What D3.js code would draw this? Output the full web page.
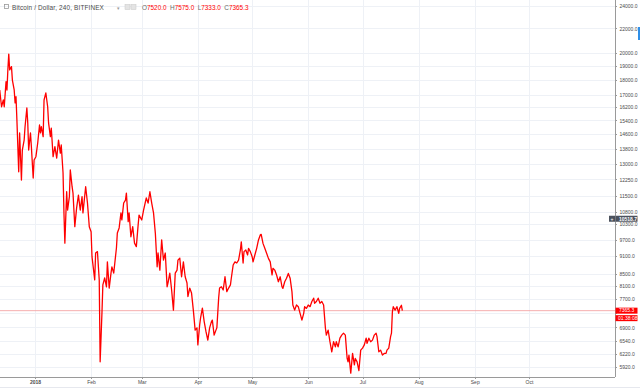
<!DOCTYPE html>
<html lang="en">
<head>
<meta charset="UTF-8">
<title>Bitcoin / Dollar, 240, BITFINEX</title>
<script src="https://d3js.org/d3.v7.min.js"></script>
<style>
  body { margin: 0; background: #fff; }
  svg { display: block; font-family: "Liberation Sans", Arial, sans-serif; }
  .grid line { stroke: #eef1f6; shape-rendering: crispEdges; }
  .axis text { fill: #4a4a4a; font-size: 5px; }
  .axis line { stroke: #9a9a9a; shape-rendering: crispEdges; }
  .axis path { display: none; }
  .line { fill: none; stroke: #ff0000; stroke-width: 1.3px; stroke-linejoin: round; }
</style>
</head>
<body>
<div id="chart"></div>
<script>
// header
const symbolTitle = "Bitcoin / Dollar, 240, BITFINEX";
const ohlcLabels = ["O", "H", "L", "C"];
const ohlcValues = [7520.0, 7575.0, 7333.0, 7365.3];
const lastPrice = 7365.3;
const countdown = "01:38:08";
const crosshairPrice = 10518.7;

// axes
const priceTicks = [24000, 22000, 20000, 19000, 18000, 17000, 16200, 15400, 14600, 13800,
  13000, 12250, 11500, 10800, 10300, 9700, 9100, 8500, 8100, 7700, 7300, 6900, 6540, 6220, 5920];
const monthTicks = ["2018-01-01", "2018-02-01", "2018-03-01", "2018-04-01", "2018-05-01",
  "2018-06-01", "2018-07-01", "2018-08-01", "2018-09-01", "2018-10-01"];
const monthLabels = ["2018", "Feb", "Mar", "Apr", "May", "Jun", "Jul", "Aug", "Sep", "Oct"];

// close prices
const dates = [
  "2017-12-12 12","2017-12-13 12","2017-12-14 12","2017-12-15 00","2017-12-16 00","2017-12-16 12","2017-12-17 00","2017-12-17 12","2017-12-18 00","2017-12-19 00",
  "2017-12-19 12","2017-12-20 12","2017-12-21 00","2017-12-21 12","2017-12-22 00","2017-12-23 00","2017-12-23 12","2017-12-24 00","2017-12-24 12","2017-12-25 00",
  "2017-12-26 00","2017-12-26 12","2017-12-27 12","2017-12-28 00","2017-12-28 12","2017-12-29 12","2017-12-30 00","2017-12-31 00","2017-12-31 12",
  "2018-01-01 12","2018-01-02 12","2018-01-03 12","2018-01-04 00","2018-01-04 12","2018-01-05 12","2018-01-06 00","2018-01-07 00","2018-01-08 00","2018-01-08 12",
  "2018-01-09 12","2018-01-10 00","2018-01-11 00","2018-01-12 00","2018-01-13 00","2018-01-14 00","2018-01-15 00","2018-01-15 12","2018-01-16 12","2018-01-17 00",
  "2018-01-17 12","2018-01-18 12","2018-01-19 00","2018-01-20 00","2018-01-20 12","2018-01-21 12","2018-01-22 00","2018-01-23 00","2018-01-24 00","2018-01-25 00",
  "2018-01-26 00","2018-01-27 00","2018-01-27 12","2018-01-29 00","2018-01-30 00","2018-01-31 00",
  "2018-02-01 00","2018-02-01 12","2018-02-03 00","2018-02-03 12","2018-02-04 12","2018-02-05 12","2018-02-06 00","2018-02-07 00","2018-02-07 12","2018-02-08 12",
  "2018-02-09 12","2018-02-10 00","2018-02-11 00","2018-02-12 00","2018-02-12 12","2018-02-13 12","2018-02-15 00","2018-02-15 12","2018-02-16 12","2018-02-17 12",
  "2018-02-18 00","2018-02-19 00","2018-02-20 00","2018-02-20 12","2018-02-21 12","2018-02-22 00","2018-02-23 00","2018-02-24 00","2018-02-25 00","2018-02-26 00",
  "2018-02-27 00","2018-02-27 12",
  "2018-03-01 00","2018-03-02 00","2018-03-03 12","2018-03-04 12","2018-03-05 12","2018-03-06 12","2018-03-07 12","2018-03-08 12","2018-03-09 12","2018-03-10 00",
  "2018-03-11 00","2018-03-12 00","2018-03-13 00","2018-03-14 00","2018-03-15 00","2018-03-15 12","2018-03-16 12","2018-03-17 12","2018-03-18 12","2018-03-19 12",
  "2018-03-20 12","2018-03-21 00","2018-03-22 00","2018-03-23 00","2018-03-24 00","2018-03-25 00","2018-03-26 00","2018-03-26 12","2018-03-27 12","2018-03-28 12",
  "2018-03-29 12","2018-03-30 12","2018-03-31 12",
  "2018-04-01 00","2018-04-02 00","2018-04-02 12","2018-04-03 12","2018-04-04 12","2018-04-05 12","2018-04-06 12","2018-04-07 12","2018-04-08 12","2018-04-09 00",
  "2018-04-10 00","2018-04-11 00","2018-04-11 12","2018-04-12 12","2018-04-13 00","2018-04-14 00","2018-04-15 00","2018-04-16 00","2018-04-17 00","2018-04-18 00",
  "2018-04-19 00","2018-04-19 12","2018-04-20 12","2018-04-21 12","2018-04-22 12","2018-04-23 12","2018-04-24 12","2018-04-25 00","2018-04-26 00","2018-04-26 12",
  "2018-04-27 12","2018-04-28 12","2018-04-29 00","2018-04-30 00",
  "2018-05-01 00","2018-05-01 12","2018-05-02 12","2018-05-03 12","2018-05-04 12","2018-05-05 12","2018-05-06 00","2018-05-07 00","2018-05-08 00","2018-05-09 00",
  "2018-05-10 00","2018-05-11 00","2018-05-12 00","2018-05-12 12","2018-05-13 12","2018-05-14 12","2018-05-15 12","2018-05-16 12","2018-05-17 12","2018-05-18 00",
  "2018-05-19 00","2018-05-20 00","2018-05-21 00","2018-05-22 00","2018-05-23 00","2018-05-23 12","2018-05-24 12","2018-05-25 12","2018-05-26 12","2018-05-27 12",
  "2018-05-28 12","2018-05-29 12","2018-05-30 00","2018-05-31 00",
  "2018-06-01 00","2018-06-02 00","2018-06-03 00","2018-06-04 00","2018-06-04 12","2018-06-05 12","2018-06-06 12","2018-06-07 12","2018-06-08 12","2018-06-09 12",
  "2018-06-10 12","2018-06-11 00","2018-06-12 00","2018-06-13 00","2018-06-14 00","2018-06-15 00","2018-06-16 00","2018-06-16 12","2018-06-17 12","2018-06-18 12",
  "2018-06-19 12","2018-06-20 12","2018-06-21 12","2018-06-22 12","2018-06-23 00","2018-06-23 12","2018-06-24 12","2018-06-25 12","2018-06-26 12","2018-06-27 00",
  "2018-06-28 00","2018-06-29 00","2018-06-30 00",
  "2018-07-01 00","2018-07-02 00","2018-07-03 00","2018-07-03 12","2018-07-04 12","2018-07-05 12","2018-07-06 12","2018-07-07 12","2018-07-08 12","2018-07-09 00",
  "2018-07-10 00","2018-07-11 00","2018-07-12 00","2018-07-13 00","2018-07-14 00","2018-07-14 12","2018-07-15 12","2018-07-16 12","2018-07-17 00","2018-07-17 12",
  "2018-07-18 00","2018-07-19 00","2018-07-20 00","2018-07-21 00","2018-07-21 12","2018-07-22 12","2018-07-23 00"
];
const closes = [
  17330,16240,16670,16240,17900,17330,18730,19920,18730,18970,
  18010,17330,16480,16880,15430,12620,14670,13380,12220,13730,
  14270,15030,16160,15250,13730,14670,13910,12320,13210,
  13380,14110,15130,14670,15030,14460,16670,17130,16240,15250,
  14460,14950,13380,13910,13310,14270,13570,14000,12560,10760,
  9570,11680,10880,11460,12710,11910,11620,10200,10970,11530,
  10880,11460,10760,11910,11180,10200,
  10000,9080,8300,9210,9260,8300,6040,7300,8140,8360,
  8080,8900,8040,8520,8730,8520,9390,9950,10150,10760,
  10470,11180,11310,11620,10400,10760,9810,10200,9570,9440,
  10270,10670,
  10470,10880,11400,11180,11680,11180,10760,9950,8730,9210,
  8620,9690,8960,9210,8080,8200,8520,7980,7380,8520,
  8620,8960,9030,8400,8900,8400,8200,7780,8040,7890,
  7380,6830,6890,
  6450,6970,7160,7440,7060,6790,6570,6890,7060,7100,
  6700,6830,6890,7740,8040,8080,7980,8400,7930,8040,
  8140,8360,8790,8900,8860,8960,9320,9620,8860,9260,
  9320,9140,9380,9260,
  9080,8900,9140,9380,9690,9880,9900,9560,9380,9200,
  9020,8900,8460,8680,8620,8460,8240,8400,8080,8030,
  8240,8350,8510,8350,7930,7530,7380,7530,7480,7290,
  7100,7290,7480,7430,
  7530,7480,7630,7730,7580,7630,7730,7580,7630,7530,
  6880,6700,6830,6530,6280,6530,6400,6530,6400,6620,
  6700,6750,6700,6120,6040,6200,5780,6240,5970,6120,
  6040,5840,6320,
  6370,6450,6620,6490,6620,6530,6570,6700,6750,6660,
  6280,6320,6200,6240,6240,6320,6370,6660,6750,7330,
  7480,7380,7480,7290,7430,7520,7365.3
];

const W = 640, H = 389;
const plotRight = 615, plotBottom = 377;

const parseTime = d3.timeParse("%Y-%m-%d %H");
const parseDay = d3.timeParse("%Y-%m-%d");
const series = dates.map((d, i) => ({ time: parseTime(d), close: closes[i] }));

const x = d3.scaleTime()
  .domain([parseDay(monthTicks[0]), parseDay(monthTicks[monthTicks.length - 1])])
  .range([35, 529]);
const y = d3.scaleLog()
  .domain([5920, 24000])
  .range([367, 6]);

const svg = d3.select("#chart").append("svg")
  .attr("width", W)
  .attr("height", H);

svg.append("defs").append("clipPath").attr("id", "plot")
  .append("rect").attr("x", 0).attr("y", 0).attr("width", plotRight).attr("height", plotBottom);

// grid
const grid = svg.append("g").attr("class", "grid");
grid.selectAll(".h").data(priceTicks).enter().append("line")
  .attr("x1", 0).attr("x2", plotRight)
  .attr("y1", d => Math.round(y(d)) + 0.5).attr("y2", d => Math.round(y(d)) + 0.5);
grid.selectAll(".v").data(monthTicks).enter().append("line")
  .attr("x1", d => Math.round(x(parseDay(d))) + 0.5).attr("x2", d => Math.round(x(parseDay(d))) + 0.5)
  .attr("y1", 0).attr("y2", plotBottom);

// last price line
svg.append("line")
  .attr("x1", 0).attr("x2", plotRight)
  .attr("y1", y(lastPrice)).attr("y2", y(lastPrice))
  .attr("stroke", "#f49a9a").attr("stroke-width", 0.8);

// price line
const line = d3.line()
  .x(d => x(d.time))
  .y(d => y(d.close));

svg.append("path")
  .datum(series)
  .attr("class", "line")
  .attr("clip-path", "url(#plot)")
  .attr("d", line);

// axis frames
svg.append("line").attr("x1", plotRight + 0.5).attr("x2", plotRight + 0.5).attr("y1", 0).attr("y2", plotBottom)
  .attr("stroke", "#9a9a9a");
svg.append("line").attr("x1", 0).attr("x2", plotRight).attr("y1", plotBottom + 0.5).attr("y2", plotBottom + 0.5)
  .attr("stroke", "#9a9a9a");
svg.append("line").attr("x1", 0).attr("x2", W).attr("y1", 387.5).attr("y2", 387.5)
  .attr("stroke", "#e6e8ee");

const yAxisG = svg.append("g")
  .attr("class", "axis")
  .attr("transform", `translate(${plotRight},0)`)
  .call(d3.axisRight(y).tickValues(priceTicks).tickFormat(d3.format(".1f")).tickSize(2).tickPadding(2.5));

// labels hidden under the last-price box, as on the original
yAxisG.selectAll(".tick")
  .filter(d => Math.abs(y(d) - y(lastPrice)) < 8)
  .select("text").remove();

svg.append("g")
  .attr("class", "axis")
  .attr("transform", `translate(0,${plotBottom})`)
  .call(d3.axisBottom(x).tickValues(monthTicks.map(parseDay))
    .tickFormat((d, i) => monthLabels[i]).tickSize(2).tickPadding(1.5))
  .selectAll("text")
  .style("font-weight", (d, i) => i === 0 ? "bold" : null);

// last price labels
const yl = y(lastPrice);
svg.append("rect").attr("x", plotRight + 0.5).attr("y", yl - 3).attr("width", 22).attr("height", 6).attr("fill", "#ff0000");
svg.append("text").attr("x", plotRight + 4).attr("y", yl + 1.8).attr("fill", "#fff")
  .style("font-size", "5px").text(d3.format(".1f")(lastPrice));
svg.append("rect").attr("x", plotRight + 0.5).attr("y", yl + 4.5).attr("width", 22).attr("height", 6).attr("fill", "#ff0000");
svg.append("text").attr("x", plotRight + 3).attr("y", yl + 9.3).attr("fill", "#fff")
  .style("font-size", "5px").text(countdown);

// crosshair price label
const yc = y(crosshairPrice);
svg.append("rect").attr("x", plotRight - 6).attr("y", yc - 3).attr("width", 6).attr("height", 6).attr("fill", "#4c525e");
svg.append("text").attr("x", plotRight - 3).attr("y", yc + 1.8).attr("text-anchor", "middle").attr("fill", "#fff")
  .style("font-size", "5px").text("+");
svg.append("rect").attr("x", plotRight + 0.5).attr("y", yc - 3).attr("width", 22).attr("height", 6).attr("fill", "#4c525e");
svg.append("text").attr("x", plotRight + 4).attr("y", yc + 1.8).attr("fill", "#fff")
  .style("font-size", "5px").style("font-weight", "bold").text(d3.format(".1f")(crosshairPrice));

// side marker
svg.append("rect").attr("x", 638).attr("y", 27).attr("width", 2).attr("height", 13).attr("fill", "#2f8fe8");

// header
const head = svg.append("g").attr("transform", "translate(0,10)");
head.append("rect").attr("x", 4.5).attr("y", -5.5).attr("width", 4).attr("height", 4)
  .attr("fill", "none").attr("stroke", "#9a9a9a").attr("stroke-width", 0.8);
head.append("text").attr("x", 12).attr("y", 0).attr("fill", "#4a4a4a")
  .style("font-size", "6.4px").style("letter-spacing", "0.15px").text(symbolTitle);
head.append("text").attr("x", 117).attr("y", 0).attr("fill", "#9a9a9a")
  .style("font-size", "5px").text("▾");
[125, 131].forEach(bx => {
  head.append("rect").attr("x", bx).attr("y", -5.5).attr("width", 5).attr("height", 5)
    .attr("fill", "#e4e4e4").attr("stroke", "#c8c8c8").attr("stroke-width", 0.5);
});
const ohlc = head.append("text").attr("x", 142).attr("y", 0).style("font-size", "6.4px");
ohlcLabels.forEach((lab, i) => {
  ohlc.append("tspan").attr("fill", "#6a6a6a").attr("dx", i ? 3.5 : 0).text(lab);
  ohlc.append("tspan").attr("fill", "#ff0000").text(d3.format(".1f")(ohlcValues[i]));
});
</script>
</body>
</html>
